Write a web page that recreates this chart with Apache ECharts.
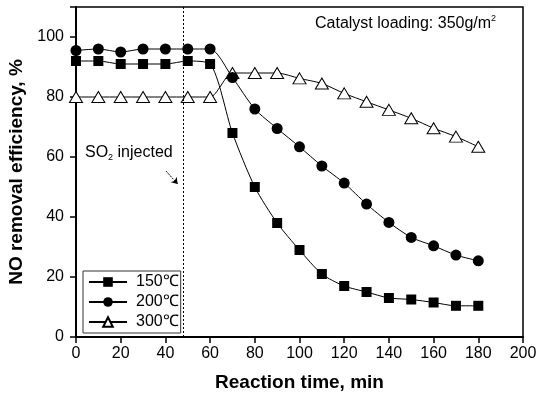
<!DOCTYPE html>
<html>
<head>
<meta charset="utf-8">
<script src="https://cdn.jsdelivr.net/npm/echarts@6/dist/echarts.min.js"></script>
<style>
  html, body { margin: 0; padding: 0; background: #fff; }
  #main { width: 539px; height: 396px; }
</style>
</head>
<body>
<div id="main"></div>
<script>
  // reaction time (min)
  var times = [0, 10, 20, 30, 40, 50, 60, 70, 80, 90, 100, 110, 120, 130, 140, 150, 160, 170, 180];
  // NO removal efficiency (%)
  var eff150 = [92, 92, 91, 91, 91, 92, 91, 68, 50, 38, 29, 21, 17, 15, 13, 12.5, 11.5, 10.4, 10.4];
  var eff200 = [95.5, 96, 95, 96, 96, 96, 96, 86.5, 76, 69.5, 63.4, 57, 51.3, 44.3, 38.2, 33.2, 30.4, 27.3, 25.4];
  var eff300 = [80, 80, 80, 80, 80, 80, 80, 88, 88, 88, 86.2, 84.5, 81.2, 78.4, 75.7, 72.9, 69.6, 66.8, 63.4];
  var yTicks = [0, 20, 40, 60, 80, 100];
  var so2Time = 48;

  function pairs(vals) {
    return times.map(function (t, i) { return [t, vals[i]]; });
  }

  var font = "Liberation Sans, Arial, sans-serif";
  var chart = echarts.init(document.getElementById("main"));

  var axisCommon = {
    axisLine: { show: true, onZero: false, lineStyle: { color: "#000", width: 2 } },
    axisTick: { show: true, inside: false, length: 6, lineStyle: { color: "#000", width: 1.5 } },
    axisLabel: { color: "#000", fontFamily: font, fontSize: 16 },
    splitLine: { show: false },
  };

  var option = {
    animation: false,
    backgroundColor: "#fff",
    grid: {
      left: 76,
      right: 16,
      top: 7,
      bottom: 59,
      outerBoundsMode: "none",
      show: true,
      borderColor: "#000",
      borderWidth: 1.5,
    },
    xAxis: {
      ...axisCommon,
      type: "value",
      min: 0,
      max: 200,
      interval: 20,
      name: "Reaction time, min",
      nameLocation: "middle",
      nameGap: 36,
      nameTextStyle: { color: "#000", fontFamily: font, fontSize: 19, fontWeight: "bold" },
      axisLabel: { ...axisCommon.axisLabel, margin: 9 },
    },
    yAxis: {
      ...axisCommon,
      type: "value",
      min: 0,
      max: 110,
      interval: 20,
      name: "NO removal efficiency, %",
      nameLocation: "middle",
      nameGap: 43,
      nameTextStyle: { color: "#000", fontFamily: font, fontSize: 19, fontWeight: "bold" },
      axisLabel: {
        ...axisCommon.axisLabel,
        margin: 12,
        formatter: function (v) { return yTicks.indexOf(v) >= 0 ? String(v) : ""; },
      },
    },
    legend: {
      orient: "vertical",
      left: 83,
      top: 271,
      padding: [3, 2, 3, 5],
      itemGap: 4,
      itemWidth: 38,
      itemHeight: 12,
      borderColor: "#333",
      borderWidth: 1,
      backgroundColor: "#fff",
      textStyle: { color: "#000", fontFamily: font, fontSize: 16, padding: [0, 0, 0, 4] },
      data: ["150℃", "200℃", "300℃"],
    },
    graphic: [
      {
        type: "text",
        left: 315,
        top: 14,
        style: {
          text: "Catalyst loading: 350g/m{sup|2}",
          fontFamily: font,
          fontSize: 16,
          fill: "#000",
          rich: { sup: { fontSize: 9, verticalAlign: "top", padding: [0, 0, 10, 0], fontFamily: font } },
        },
      },
      {
        type: "text",
        left: 85,
        top: 145,
        style: {
          text: "SO{sub|2} injected",
          fontFamily: font,
          fontSize: 16,
          fill: "#000",
          rich: { sub: { fontSize: 9, padding: [10, 0, 0, 0], fontFamily: font } },
        },
      },
    ],
    series: [
      {
        name: "150℃",
        type: "line",
        data: pairs(eff150),
        smooth: 0.25,
        symbol: "rect",
        symbolSize: 10,
        itemStyle: { color: "#000" },
        lineStyle: { color: "#000", width: 1 },
        z: 3,
        markLine: {
          silent: true,
          symbol: "none",
          label: { show: false },
          lineStyle: { color: "#000", type: [2, 2], width: 1 },
          data: [{ xAxis: so2Time }],
        },
      },
      {
        name: "200℃",
        type: "line",
        data: pairs(eff200),
        smooth: 0.25,
        symbol: "circle",
        symbolSize: 11,
        itemStyle: { color: "#000" },
        lineStyle: { color: "#000", width: 1 },
        z: 3,
        markLine: {
          silent: true,
          symbol: ["none", "arrow"],
          symbolSize: 6,
          label: { show: false },
          lineStyle: { color: "#000", type: [2, 1], width: 1 },
          data: [[{ coord: [40.3, 55.3] }, { coord: [45.5, 51] }]],
        },
      },
      {
        name: "300℃",
        type: "line",
        data: pairs(eff300),
        smooth: 0.25,
        symbol: "triangle",
        symbolSize: [13, 11],
        itemStyle: { color: "#fff", borderColor: "#000", borderWidth: 1 },
        lineStyle: { color: "#000", width: 1 },
        z: 2,
      },
    ],
  };

  chart.setOption(option);
</script>
</body>
</html>
